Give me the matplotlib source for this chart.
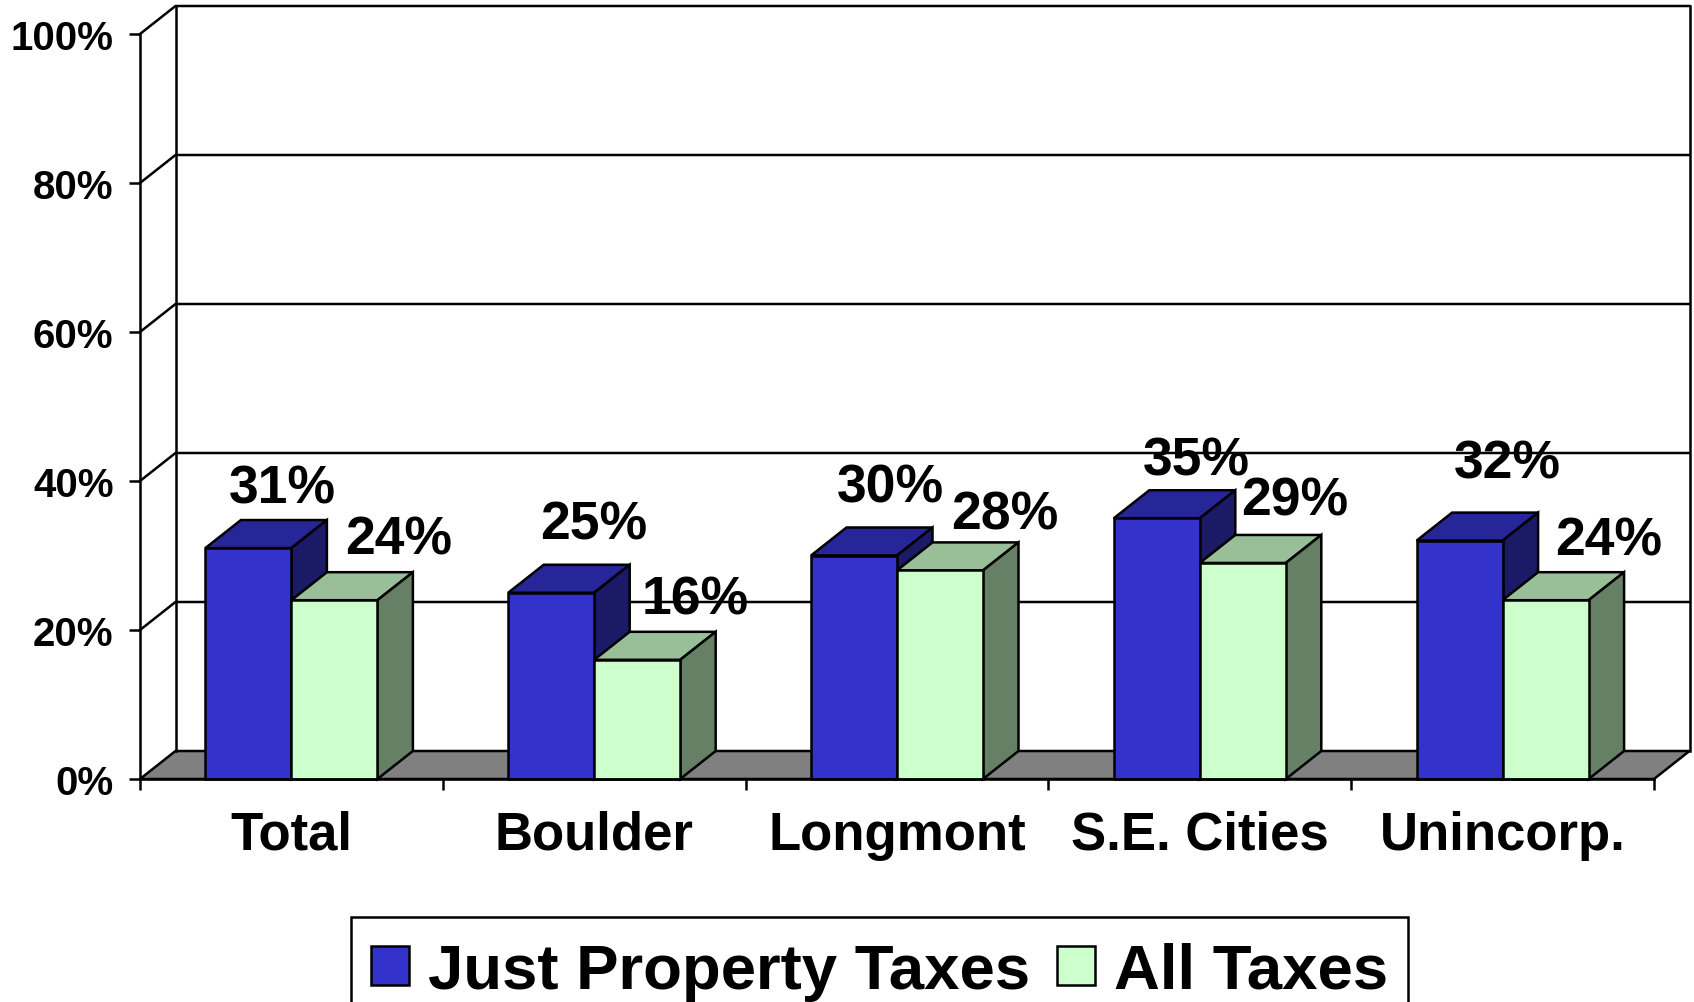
import matplotlib
matplotlib.use("Agg")
import matplotlib.pyplot as plt
from matplotlib.patches import Patch, Polygon, Rectangle

categories = ["Total", "Boulder", "Longmont", "S.E. Cities", "Unincorp."]
property_taxes = [31, 25, 30, 35, 32]
all_taxes = [24, 16, 28, 29, 24]
y_ticks = [0, 20, 40, 60, 80, 100]

# label nudges in pixels, the original labels were placed by hand
property_shift = [(33.5, 60), (42, 68), (36, 68), (40, 57.5), (47.5, 77)]
all_shift = [(64, 61), (58, 60), (65, 56), (52, 62), (62.6, 60)]

BLUE = ("#3333CC", "#262699", "#1A1A66")
GREEN = ("#CCFFCC", "#99BF99", "#668066")
FLOOR = "#808080"
W, H = 1694, 1003
BAR_W = 0.284
DX = 35.5 / 302.8  # depth of the 3d box in data units
DY = 28 / 7.45
LW = 1.8

plt.rcParams["font.family"] = ["Liberation Sans", "DejaVu Sans"]
plt.rcParams["font.weight"] = "bold"

fig = plt.figure(figsize=(W / 100, H / 100), dpi=100)
ax = fig.add_axes([140 / W, 1 - 780 / H, (1654 - 140) / W, (780 - 35) / H])
ax.set_xlim(0, 5)
ax.set_ylim(0, 100)


def line(xs, ys, z=1):
    ax.plot(xs, ys, color="black", lw=LW, clip_on=False, zorder=z, solid_capstyle="projecting")


def poly(points, color, z):
    ax.add_patch(Polygon(points, closed=True, facecolor=color, edgecolor="black", lw=LW,
                         clip_on=False, zorder=z, joinstyle="miter"))


# floor and back wall
poly([(0, 0), (5, 0), (5 + DX, DY), (DX, DY)], FLOOR, 1)
line([DX, DX], [DY, 100 + DY])
line([5 + DX, 5 + DX], [DY, 100 + DY])
for t in y_ticks[1:]:
    line([0, DX, 5 + DX], [t, t + DY, t + DY])


def box(left, value, colors, z):
    poly([(left, value), (left + BAR_W, value), (left + BAR_W + DX, value + DY), (left + DX, value + DY)], colors[1], z)
    poly([(left + BAR_W, 0), (left + BAR_W + DX, DY), (left + BAR_W + DX, value + DY), (left + BAR_W, value)], colors[2], z)
    ax.bar(left, value, width=BAR_W, align="edge", color=colors[0], edgecolor="black", lw=LW, zorder=z, clip_on=False)


for i in range(len(categories)):
    center = i + 0.5
    box(center - BAR_W, property_taxes[i], BLUE, 3)
    box(center, all_taxes[i], GREEN, 4)
    for left, value, shift in [(center - BAR_W, property_taxes[i], property_shift[i]),
                               (center, all_taxes[i], all_shift[i])]:
        ax.annotate(f"{value}%", (left + BAR_W / 2, value), xytext=(shift[0] * 0.72, shift[1] * 0.72),
                    textcoords="offset points", ha="center", va="center", fontsize=38.5,
                    fontweight="bold", zorder=6, annotation_clip=False)

for s in ["top", "right"]:
    ax.spines[s].set_visible(False)
for s in ["left", "bottom"]:
    ax.spines[s].set_linewidth(LW)
    ax.spines[s].set_zorder(5)

ax.set_yticks(y_ticks)
ax.set_yticklabels([f"{t}%" for t in y_ticks], fontsize=29, fontweight="bold")
ax.tick_params(axis="y", length=8, width=LW, pad=11)
ax.set_xticks(range(len(categories) + 1))
ax.set_xticklabels([])
ax.set_xticks([i + 0.5 for i in range(len(categories))], minor=True)
ax.set_xticklabels(categories, minor=True, fontsize=38, fontweight="bold")
ax.tick_params(axis="x", which="major", length=8, width=LW)
ax.tick_params(axis="x", which="minor", length=0, pad=22)

# legend frame runs off the bottom of the picture, so it is drawn on its own
fig.add_artist(Rectangle((351 / W, -0.02), (1408 - 351) / W, 1 - 918 / H + 0.02, transform=fig.transFigure,
                         facecolor="white", edgecolor="black", lw=LW, zorder=2))
handles = [Patch(facecolor=BLUE[0], edgecolor="black", lw=LW), Patch(facecolor=GREEN[0], edgecolor="black", lw=LW)]
leg = fig.legend(handles, ["Just Property Taxes", "All Taxes"], loc="upper left",
                 bbox_to_anchor=(350 / W, 1 - 922 / H), ncol=2, fontsize=45.7, frameon=False,
                 borderpad=0.33, borderaxespad=0, handlelength=0.6, handleheight=0.55,
                 handletextpad=0.3, columnspacing=0.42)
leg.set_zorder(3)

fig.savefig("out.png", dpi=100)
